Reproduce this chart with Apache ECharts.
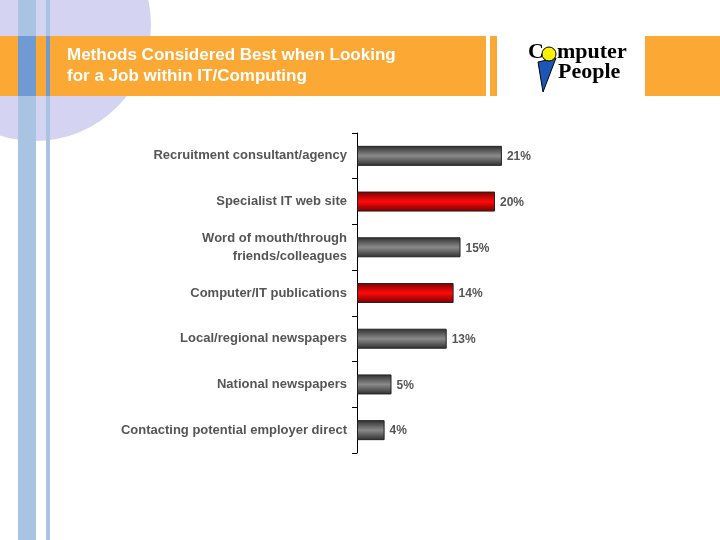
<!DOCTYPE html>
<html>
<head>
<meta charset="utf-8">
<script src="https://cdn.jsdelivr.net/npm/echarts@6/dist/echarts.min.js"></script>
<style>
  html, body { margin: 0; padding: 0; background: #fff; }
  #root { width: 720px; height: 540px; }
</style>
</head>
<body>
<div id="root"></div>
<script>
const categories = [
  "Recruitment consultant/agency",
  "Specialist IT web site",
  "Word of mouth/through\nfriends/colleagues",
  "Computer/IT publications",
  "Local/regional newspapers",
  "National newspapers",
  "Contacting potential employer direct"
];
const values = [21, 20, 15, 14, 13, 5, 4];
const highlighted = [false, true, false, true, false, false, false];

const grayFill = new echarts.graphic.LinearGradient(0, 0, 0, 1, [
  { offset: 0, color: "#2e2e2e" }, { offset: 0.5, color: "#8a8a8a" }, { offset: 1, color: "#2e2e2e" }
]);
const redFill = new echarts.graphic.LinearGradient(0, 0, 0, 1, [
  { offset: 0, color: "#7a0000" }, { offset: 0.5, color: "#ff0a0a" }, { offset: 1, color: "#7a0000" }
]);

const chart = echarts.init(document.getElementById("root"));
chart.setOption({
  animation: false,
  graphic: [
    { type: "circle", z: -10, shape: { cx: 35, cy: 25, r: 116 }, style: { fill: "#d4d4f2" } },
    { type: "rect", z: -9, shape: { x: 18, y: 0, width: 18, height: 540 }, style: { fill: "#a9c3e2" } },
    { type: "rect", z: -9, shape: { x: 46, y: 0, width: 4, height: 540 }, style: { fill: "#a9c3e2" } },
    { type: "rect", z: -8, shape: { x: 0, y: 36, width: 486, height: 60 }, style: { fill: "#fba834" } },
    { type: "rect", z: -7, shape: { x: 18, y: 36, width: 18, height: 60 }, style: { fill: "#6f9bd2" } },
    { type: "rect", z: -7, shape: { x: 46, y: 36, width: 4, height: 60 }, style: { fill: "#6f9bd2" } },
    { type: "rect", z: -8, shape: { x: 490, y: 36, width: 7, height: 60 }, style: { fill: "#fba834" } },
    { type: "rect", z: -8, shape: { x: 645, y: 36, width: 75, height: 60 }, style: { fill: "#fba834" } },
    { type: "text", left: 67, top: 45, style: {
      text: "Methods Considered Best when Looking\nfor a Job within IT/Computing",
      fill: "#fff", font: "bold 17px 'Liberation Sans', Arial", lineHeight: 21 } },
    { type: "polygon", shape: { points: [[538, 62], [556, 58], [543, 92]] }, style: { fill: "#1a57b8", stroke: "#000" } },
    { type: "text", left: 528, top: 41, style: {
      text: "C", fill: "#000", font: "bold 22px 'Liberation Serif', serif" } },
    { type: "circle", shape: { cx: 549, cy: 54, r: 7 }, style: { fill: "#ffef00", stroke: "#000" } },
    { type: "text", left: 557, top: 41, style: {
      text: "mputer", fill: "#000", font: "bold 22px 'Liberation Serif', serif" } },
    { type: "text", left: 558, top: 61, style: {
      text: "People", fill: "#000", font: "bold 22px 'Liberation Serif', serif" } }
  ],
  grid: { left: 357, right: 156, top: 133, bottom: 87, containLabel: false },
  xAxis: { type: "value", min: 0, max: 30, show: false },
  yAxis: {
    type: "category", data: categories, inverse: true,
    axisLine: { show: true, lineStyle: { color: "#000", width: 1 } },
    axisTick: { show: true, length: 5, lineStyle: { color: "#000" } },
    axisLabel: { color: "#555", fontWeight: "bold", fontSize: 13, fontFamily: "'Liberation Sans', Arial", margin: 10, lineHeight: 18 }
  },
  series: [{
    type: "bar", barWidth: 20,
    data: values.map((v, i) => ({ value: v, itemStyle: { color: highlighted[i] ? redFill : grayFill } })),
    itemStyle: { borderColor: "#222", borderWidth: 1 },
    label: { show: true, position: "right", formatter: "{c}%", color: "#555", fontWeight: "bold", fontSize: 12, fontFamily: "'Liberation Sans', Arial", offset: [0, 1] }
  }]
});
</script>
</body>
</html>
